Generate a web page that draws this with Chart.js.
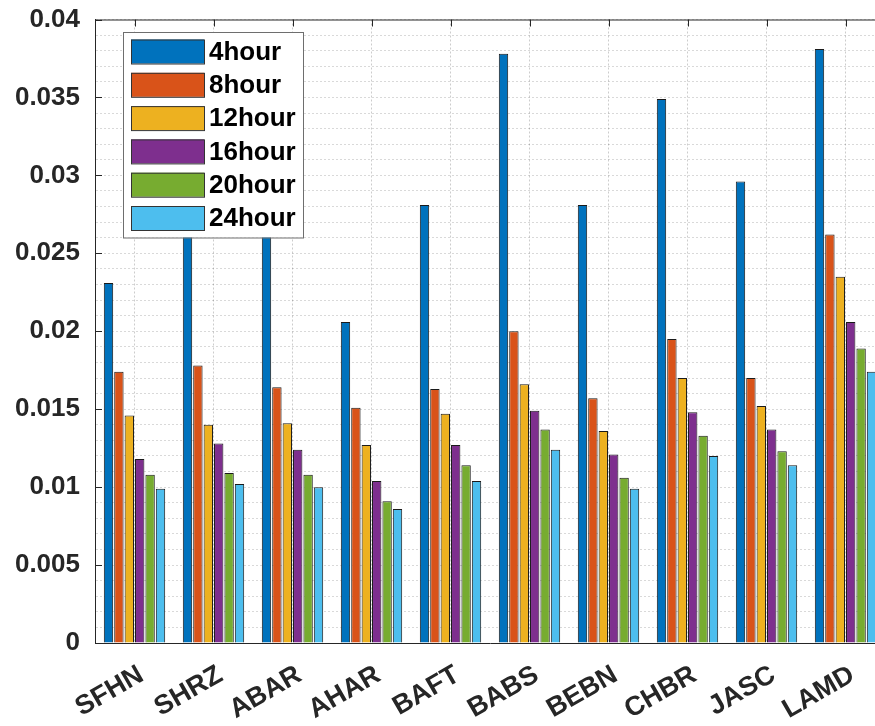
<!DOCTYPE html>
<html>
<head>
<meta charset="utf-8">
<script src="https://cdn.jsdelivr.net/npm/chart.js@4.4.1/dist/chart.umd.min.js"></script>
<style>
  html, body { margin: 0; padding: 0; background: #fff; overflow: hidden; }
  #wrap { position: absolute; left: 0; top: 0; width: 900px; height: 726px; }
</style>
</head>
<body>
<div id="wrap"><canvas id="barChart"></canvas></div>
<script>
// station names along the x axis
const categories = ['SFHN', 'SHRZ', 'ABAR', 'AHAR', 'BAFT', 'BABS', 'BEBN', 'CHBR', 'JASC', 'LAMD'];

// values (4hour bars of SHRZ/ABAR are hidden behind the legend, estimated)
const hour4  = [0.0231, 0.0290, 0.0285, 0.0206, 0.0281, 0.0378, 0.0281, 0.0349, 0.0296, 0.0381];
const hour8  = [0.0174, 0.0178, 0.0164, 0.0151, 0.0163, 0.0200, 0.0157, 0.0195, 0.0170, 0.0262];
const hour12 = [0.0146, 0.0140, 0.0141, 0.0127, 0.0147, 0.0166, 0.0136, 0.0170, 0.0152, 0.0235];
const hour16 = [0.0118, 0.0128, 0.0124, 0.0104, 0.0127, 0.0149, 0.0121, 0.0148, 0.0137, 0.0206];
const hour20 = [0.0108, 0.0109, 0.0108, 0.0091, 0.0114, 0.0137, 0.0106, 0.0133, 0.0123, 0.0189];
const hour24 = [0.0099, 0.0102, 0.0100, 0.0086, 0.0104, 0.0124, 0.0099, 0.0120, 0.0114, 0.0174];

const seriesLabels = ['4hour', '8hour', '12hour', '16hour', '20hour', '24hour'];
const seriesData = [hour4, hour8, hour12, hour16, hour20, hour24];
const colors = ['#0072BD', '#D95319', '#EDB120', '#7E2F8E', '#77AC30', '#4DBEEE'];

const yMin = 0, yMax = 0.04, yStep = 0.001, labelEvery = 5;

const FONT = "'Liberation Sans', Arial, Helvetica, sans-serif";
const TEXT = '#262626';

// axis frame: top line, inward tick marks, and the legend box inside the plot
const frame = {
    id: 'frame',
    afterDatasetsDraw(chart) {
        const { ctx, chartArea: a, scales: { x, y } } = chart;
        ctx.save();
        ctx.strokeStyle = TEXT;
        ctx.lineWidth = 1;
        ctx.beginPath();
        ctx.moveTo(a.left, a.top + 0.5);
        ctx.lineTo(a.right, a.top + 0.5);
        categories.forEach((c, i) => {
            const px = Math.round(x.getPixelForValue(i)) + 0.5;
            ctx.moveTo(px, a.top);
            ctx.lineTo(px, a.top + 7);
        });
        y.ticks.forEach((t, i) => {
            if (i % labelEvery) return;
            const py = Math.round(y.getPixelForValue(t.value)) + 0.5;
            ctx.moveTo(a.left, py);
            ctx.lineTo(a.left + 7, py);
        });
        ctx.stroke();

        // legend
        const lx = a.left + 28, ly = a.top + 12.5;
        const rowH = 33.3, boxW = 180, boxH = 205.5;
        ctx.fillStyle = '#fff';
        ctx.fillRect(lx, ly, boxW, boxH);
        ctx.strokeStyle = '#6e6e6e';
        ctx.strokeRect(lx + 0.5, ly + 0.5, boxW, boxH);
        ctx.font = 'bold 26px ' + FONT;
        ctx.textBaseline = 'middle';
        chart.data.datasets.forEach((ds, i) => {
            const sy = ly + 7.5 + i * rowH;
            ctx.fillStyle = ds.backgroundColor;
            ctx.fillRect(lx + 8, sy, 73, 24);
            ctx.strokeStyle = '#333';
            ctx.strokeRect(lx + 8.5, sy + 0.5, 73, 24);
            ctx.fillStyle = '#000';
            ctx.fillText(ds.label, lx + 86, sy + 13);
        });
        ctx.restore();
    }
};

new Chart(document.getElementById('barChart'), {
    type: 'bar',
    data: {
        labels: categories,
        datasets: seriesData.map((d, i) => ({
            label: seriesLabels[i],
            data: d,
            backgroundColor: colors[i],
            borderColor: '#1a1a1a',
            borderWidth: 1,
            categoryPercentage: 0.79,
            barPercentage: 0.9
        }))
    },
    options: {
        responsive: true,
        maintainAspectRatio: false,
        animation: false,
        layout: { padding: { top: 19.5, right: 15, left: 0, bottom: 0 } },
        plugins: { legend: { display: false }, tooltip: { enabled: false } },
        scales: {
            x: {
                grid: { offset: false, drawTicks: false, color: 'rgba(0,0,0,0.2)' },
                border: { color: TEXT, width: 1, dash: [2, 2] },
                ticks: {
                    color: TEXT,
                    font: { family: FONT, size: 27, weight: 'bold' },
                    minRotation: 30,
                    maxRotation: 30,
                    padding: 16,
                    labelOffset: 7
                },
                afterFit: s => { s.height = 83; s.paddingLeft = 0; s.paddingRight = 0; }
            },
            y: {
                min: yMin,
                max: yMax,
                grid: { drawTicks: false, color: 'rgba(0,0,0,0.15)' },
                border: { color: TEXT, width: 1, dash: [2, 2] },
                ticks: {
                    stepSize: yStep,
                    maxTicksLimit: 100,
                    autoSkip: false,
                    padding: 15,
                    color: TEXT,
                    font: { family: FONT, size: 26, weight: 'bold' },
                    callback: (v, i) => (i % labelEvery === 0 ? String(Number(v.toFixed(3))) : '')
                },
                afterFit: s => { s.width = 95; s.paddingTop = 0; s.paddingBottom = 0; }
            }
        }
    },
    plugins: [frame]
});
</script>
</body>
</html>
